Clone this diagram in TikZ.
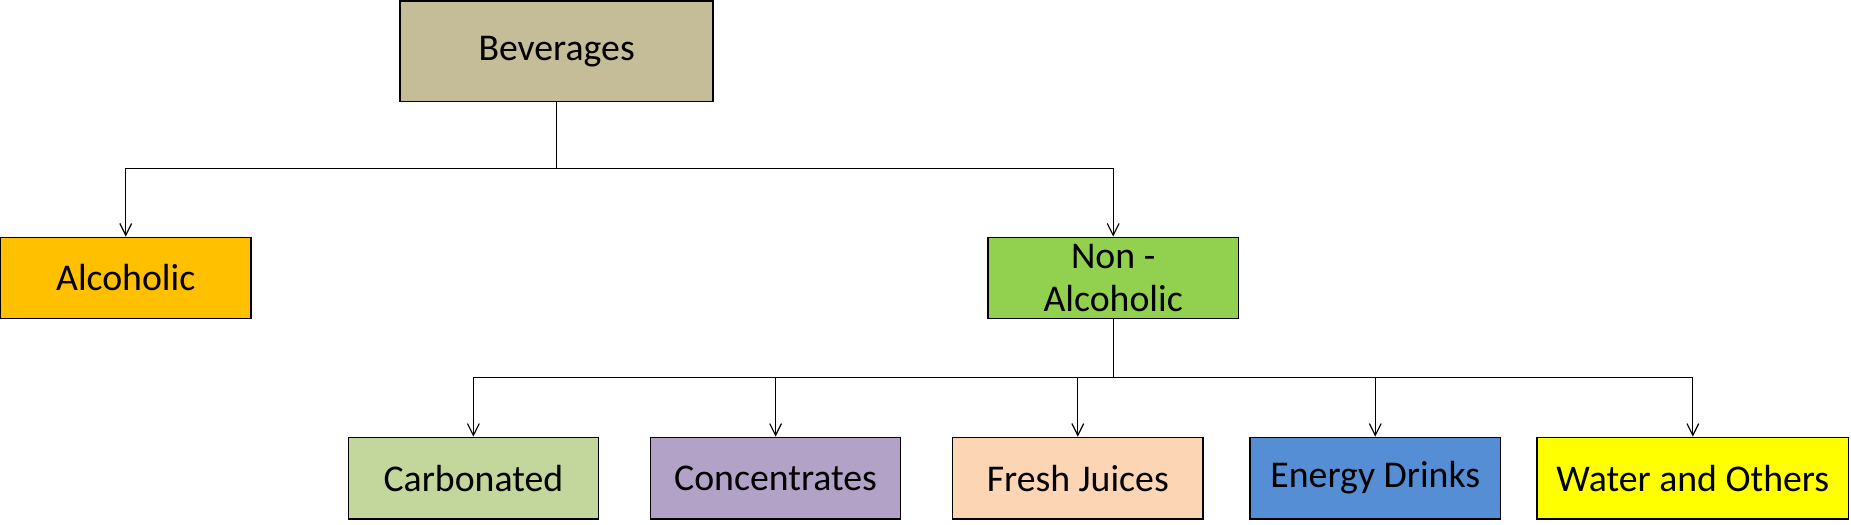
\documentclass[tikz,border=0pt]{standalone}
\usepackage{fontspec}
\setmainfont{Carlito}
\usetikzlibrary{arrows.meta}
\definecolor{cbev}{HTML}{C4BD97}
\definecolor{calc}{HTML}{FFC000}
\definecolor{cnon}{HTML}{92D050}
\definecolor{ccarb}{HTML}{C3D69B}
\definecolor{cconc}{HTML}{B3A2C7}
\definecolor{cfresh}{HTML}{FCD5B5}
\definecolor{cenergy}{HTML}{558ED5}
\definecolor{cwater}{HTML}{FFFF00}
\tikzset{
  catbox/.style={draw=black, line width=0.6pt, inner sep=0pt, minimum width=106pt, minimum height=34.5pt,
    align=center, font=\fontsize{16}{18.5}\selectfont, text=black},
  arr/.style={draw=black, line width=0.5pt, -{Straight Barb[length=5pt,width=5pt]}},
  conn/.style={draw=black, line width=0.5pt}
}
\begin{document}
\begin{tikzpicture}[x=0.5pt,y=-0.5pt]
\useasboundingbox (0,0) rectangle (1568,444);
\node[catbox, fill=cbev, minimum width=132.5pt, minimum height=42.5pt] (bev) at (471.5,43.5) {Beverages};
\node[catbox, fill=calc] (alc) at (106.5,235.5) {Alcoholic};
\node[catbox, fill=cnon] (non) at (943,235.5) {Non -\\Alcoholic};
\node[catbox, fill=ccarb] (carb) at (401,405) {Carbonated};
\node[catbox, fill=cconc] (conc) at (657,405) {Concentrates};
\node[catbox, fill=cfresh] (fresh) at (913,405) {Fresh Juices};
\node[catbox, fill=cenergy] (energy) at (1165,405) {Energy Drinks};
\node[catbox, fill=cwater, minimum width=132pt] (water) at (1434,405) {Water and Others};
\coordinate (j1) at (471.5,143);
\coordinate (j2) at (943,320);
\draw[conn] (bev.south) -- (j1);
\draw[arr] (j1) -| (alc.north);
\draw[arr] (j1) -| (non.north);
\draw[conn] (non.south) -- (j2);
\draw[arr] (j2) -| (carb.north);
\draw[arr] (j2) -| (conc.north);
\draw[arr] (j2) -| (fresh.north);
\draw[arr] (j2) -| (energy.north);
\draw[arr] (j2) -| (water.north);
\end{tikzpicture}
\end{document}
